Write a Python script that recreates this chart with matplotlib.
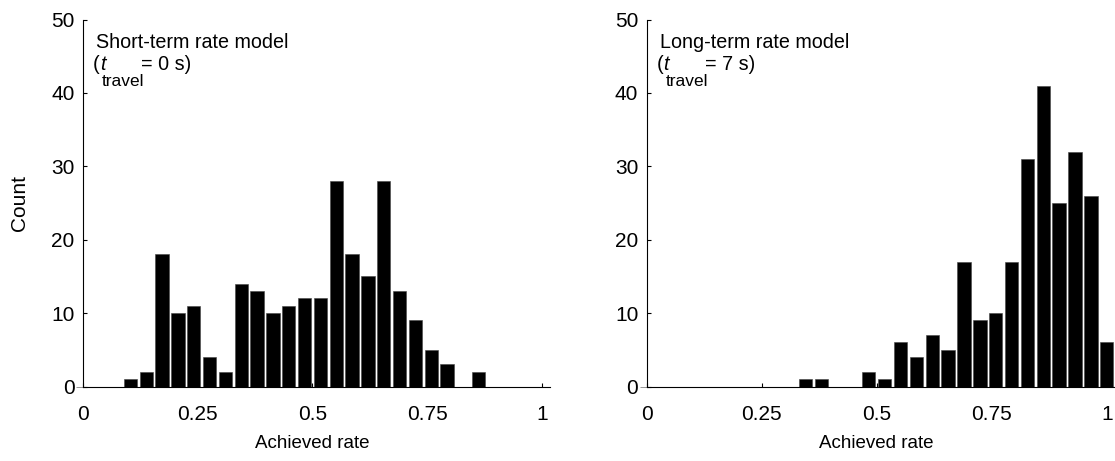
import numpy as np
import matplotlib
matplotlib.use("Agg")
import matplotlib.pyplot as plt
from matplotlib.transforms import offset_copy

plt.rcParams['font.family'] = ['Liberation Sans', 'DejaVu Sans']

# histogram bins: 30 bins centred on 0, 1/29, ..., 1
bin_centers = np.linspace(0, 1, 30)

# counts per bin, short-term model (t_travel = 0 s)
short_counts = [0, 0, 0, 1, 2, 18, 10, 11, 4, 2, 14, 13, 10, 11, 12,
                12, 28, 18, 15, 28, 13, 9, 5, 3, 0, 2, 0, 0, 0, 0]

# counts per bin, long-term model (t_travel = 7 s)
long_counts = [0, 0, 0, 0, 0, 0, 0, 0, 0, 0, 1, 1, 0, 0, 2,
               1, 6, 4, 7, 5, 17, 9, 10, 17, 31, 41, 25, 32, 26, 6]

panel_titles = ['Short-term rate model', 'Long-term rate model']
travel_times = ['0', '7']
x_ticks = [0, 0.25, 0.5, 0.75, 1]
x_ticklabels = ['0', '0.25', '0.5', '0.75', '1']
y_ticks = [0, 10, 20, 30, 40, 50]


def rowText(ax, x, y, pieces):
    # writes text pieces one after another on a line; each piece has its
    # own size, style, horizontal nudge and vertical shift (in points)
    fig = ax.figure
    renderer = fig.canvas.get_renderer()
    shift = 0.0
    for s, size, style, dx, dy in pieces:
        shift += dx
        tr = offset_copy(ax.transAxes, fig=fig, x=shift, y=dy, units='points')
        t = ax.text(x, y, s, transform=tr, fontsize=size, style=style,
                    ha='left', va='baseline')
        w = t.get_window_extent(renderer).width
        shift += w * 72.0 / fig.dpi


def drawPanel(ax, counts, title, t_travel, show_ylabel):
    # draws one histogram panel with matlab-like axes
    width = bin_centers[1] - bin_centers[0]
    ax.bar(bin_centers, counts, width=width * 0.84, color='black',
           edgecolor='#444444', linewidth=0.4, clip_on=False)
    ax.set_xlim(0, 1)
    ax.set_ylim(0, 50)
    ax.set_xticks(x_ticks)
    ax.set_xticklabels(x_ticklabels)
    ax.set_yticks(y_ticks)
    ax.spines['top'].set_visible(False)
    ax.spines['right'].set_visible(False)
    for s in ['left', 'bottom']:
        ax.spines[s].set_linewidth(0.8)
    ax.spines['bottom'].set_bounds(0, 1 + width / 2)
    ax.tick_params(axis='both', direction='in', length=3, width=0.8,
                   labelsize=15)
    ax.tick_params(axis='x', pad=13)
    ax.tick_params(axis='y', pad=6)
    ax.set_xlabel('Achieved rate', fontsize=13.5, labelpad=8)
    if show_ylabel:
        ax.set_ylabel('Count', fontsize=15, labelpad=16)
    ax.text(0.028, 0.923, title, transform=ax.transAxes, fontsize=14.2,
            ha='left', va='baseline')
    rowText(ax, 0.022, 0.862, [('(', 14.2, 'normal', 0, 0),
                               ('t', 14.2, 'italic', 0, 0),
                               ('travel', 12.5, 'normal', -2.5, -11.5),
                               ('= ' + t_travel + ' s)', 14.2, 'normal', -2.5, 0)])


fig = plt.figure(figsize=(11.15, 4.61), dpi=100)
ax1 = fig.add_axes([0.0744, 0.1616, 0.4117, 0.796])
ax2 = fig.add_axes([0.5800, 0.1616, 0.4126, 0.796])

drawPanel(ax1, short_counts, panel_titles[0], travel_times[0], True)
drawPanel(ax2, long_counts, panel_titles[1], travel_times[1], False)

fig.savefig('out.png', dpi=100)
